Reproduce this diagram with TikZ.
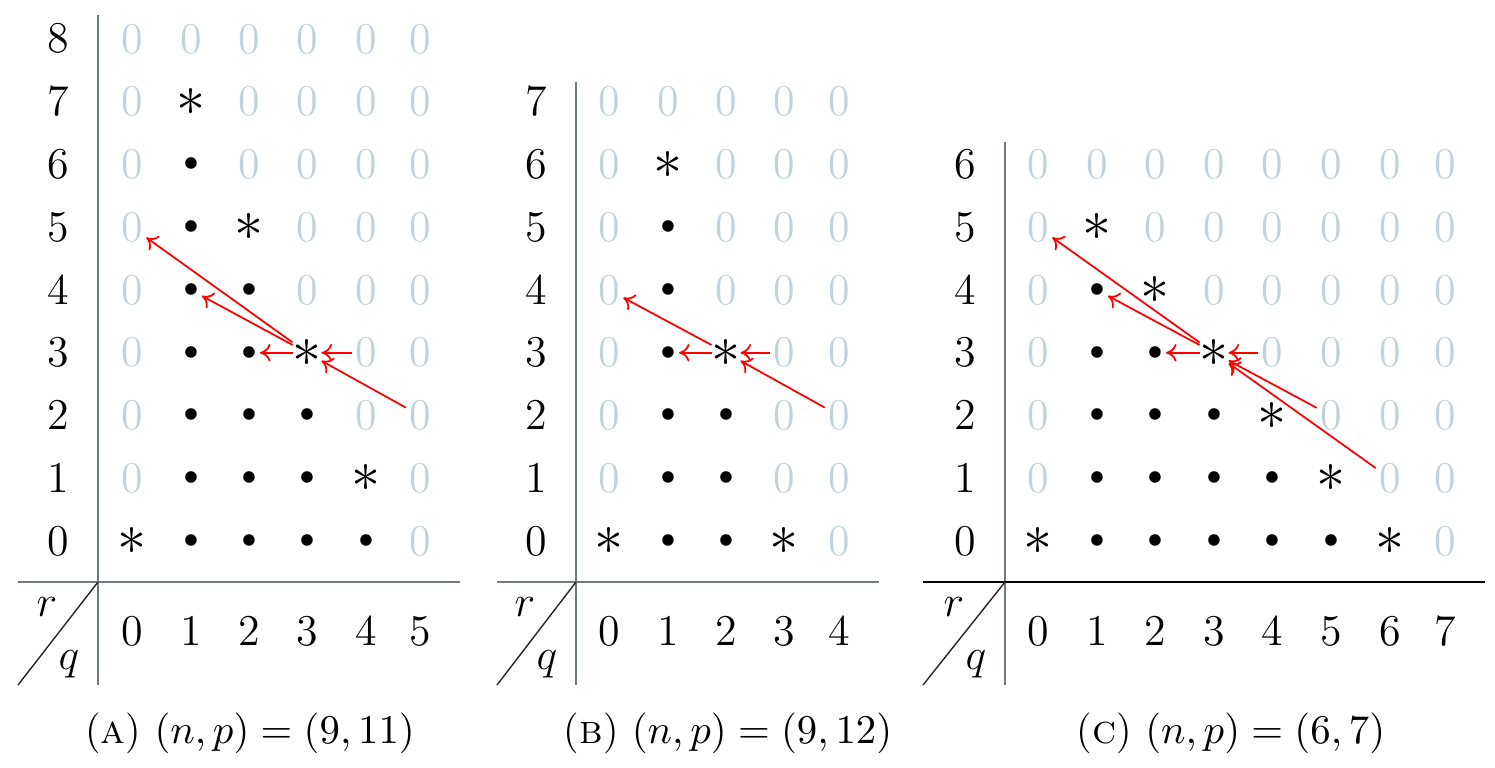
\documentclass[tikz,border=0pt]{standalone}
\usepackage{fix-cm}
\usetikzlibrary{arrows.meta}
\definecolor{zerocol}{RGB}{192,210,220}
\definecolor{axiscol}{RGB}{108,124,130}
\newcommand\cZ{\textcolor{zerocol}{0}}
\newcommand\cS{{\fontsize{16.5}{18}\selectfont\kern-1pt$\ast$\kern-1pt}}
\newcommand\cB{{\fontsize{8}{10}\selectfont$\bullet$}}
\tikzset{
  cell/.style={anchor=center, inner sep=0.8pt, font=\fontsize{12.5}{15}\selectfont},
  lab/.style={anchor=base, inner sep=0pt, font=\fontsize{12.5}{15}\selectfont},
  rq/.style={inner sep=0pt, font=\fontsize{12.5}{15}\selectfont},
  axline/.style={draw=axiscol, line width=0.6pt},
  blackline/.style={draw=black, line width=0.6pt},
  diag/.style={draw=black!85, line width=0.4pt},
  arr/.style={draw=red, line width=0.5pt, -{To[length=3pt,width=5pt]}},
  capt/.style={anchor=base, inner sep=0pt, font=\fontsize{11.6}{14}\selectfont}
}
\begin{document}
\begin{tikzpicture}[x=0.01cm,y=-0.01cm]
\useasboundingbox (0,0) rectangle (1495,767);

% ---------------- Panel A ----------------
\draw[axline] (98,15) -- (98,685);
\draw[axline] (18,582) -- (460,582);
\draw[diag] (18,685) -- (98,582);
\node[rq] (A-r) at (47,607) {$r$};
\node[rq] (A-q) at (69,664) {$q$};
\foreach \rr/\row in {8/{\cZ,\cZ,\cZ,\cZ,\cZ,\cZ},
                      7/{\cZ,\cS,\cZ,\cZ,\cZ,\cZ},
                      6/{\cZ,\cB,\cZ,\cZ,\cZ,\cZ},
                      5/{\cZ,\cB,\cS,\cZ,\cZ,\cZ},
                      4/{\cZ,\cB,\cB,\cZ,\cZ,\cZ},
                      3/{\cZ,\cB,\cB,\cS,\cZ,\cZ},
                      2/{\cZ,\cB,\cB,\cB,\cZ,\cZ},
                      1/{\cZ,\cB,\cB,\cB,\cS,\cZ},
                      0/{\cS,\cB,\cB,\cB,\cB,\cZ}}{
  \pgfmathsetmacro\yy{555-62.75*\rr}
  \pgfmathsetmacro\yc{541-62.75*\rr}
  \node[lab] (A-row\rr) at (58,\yy) {\rr};
  \foreach \t [count=\qq from 0] in \row {
    \pgfmathsetmacro\xx{{132,191,249,307,366,420}[\qq]}
    \node[cell] (A-\qq-\rr) at (\xx,\yc) {\t};
  }
}
\foreach \qq in {0,...,5}{
  \pgfmathsetmacro\xx{{132,191,249,307,366,420}[\qq]}
  \node[lab] (A-col\qq) at (\xx,645) {\qq};
}
\draw[arr] (A-3-3) -- (A-0-5);
\draw[arr] (A-3-3) -- (A-1-4);
\draw[arr] (A-3-3) -- (A-2-3);
\draw[arr] (A-4-3) -- (A-3-3);
\draw[arr] (A-5-2) -- (A-3-3);
\node[capt] (A-cap) at (250,743) {(\textsc{a})\ $(n,p)=(9,11)$};

% ---------------- Panel B ----------------
\draw[axline] (576,82) -- (576,685);
\draw[axline] (497,582) -- (879,582);
\draw[diag] (497,685) -- (576,582);
\node[rq] (B-r) at (525,607) {$r$};
\node[rq] (B-q) at (547,664) {$q$};
\foreach \rr/\row in {7/{\cZ,\cZ,\cZ,\cZ,\cZ},
                      6/{\cZ,\cS,\cZ,\cZ,\cZ},
                      5/{\cZ,\cB,\cZ,\cZ,\cZ},
                      4/{\cZ,\cB,\cZ,\cZ,\cZ},
                      3/{\cZ,\cB,\cS,\cZ,\cZ},
                      2/{\cZ,\cB,\cB,\cZ,\cZ},
                      1/{\cZ,\cB,\cB,\cZ,\cZ},
                      0/{\cS,\cB,\cB,\cS,\cZ}}{
  \pgfmathsetmacro\yy{555-62.75*\rr}
  \pgfmathsetmacro\yc{541-62.75*\rr}
  \node[lab] (B-row\rr) at (536,\yy) {\rr};
  \foreach \t [count=\qq from 0] in \row {
    \pgfmathsetmacro\xx{{609,668,726,784,839}[\qq]}
    \node[cell] (B-\qq-\rr) at (\xx,\yc) {\t};
  }
}
\foreach \qq in {0,...,4}{
  \pgfmathsetmacro\xx{{609,668,726,784,839}[\qq]}
  \node[lab] (B-col\qq) at (\xx,645) {\qq};
}
\draw[arr] (B-2-3) -- (B-0-4);
\draw[arr] (B-2-3) -- (B-1-3);
\draw[arr] (B-3-3) -- (B-2-3);
\draw[arr] (B-4-2) -- (B-2-3);
\node[capt] (B-cap) at (728,743) {(\textsc{b})\ $(n,p)=(9,12)$};

% ---------------- Panel C ----------------
\draw[axline] (1005,142) -- (1005,685);
\draw[blackline] (923,582) -- (1485,582);
\draw[diag] (923,685) -- (1005,582);
\node[rq] (C-r) at (954,607) {$r$};
\node[rq] (C-q) at (976,664) {$q$};
\foreach \rr/\row in {6/{\cZ,\cZ,\cZ,\cZ,\cZ,\cZ,\cZ,\cZ},
                      5/{\cZ,\cS,\cZ,\cZ,\cZ,\cZ,\cZ,\cZ},
                      4/{\cZ,\cB,\cS,\cZ,\cZ,\cZ,\cZ,\cZ},
                      3/{\cZ,\cB,\cB,\cS,\cZ,\cZ,\cZ,\cZ},
                      2/{\cZ,\cB,\cB,\cB,\cS,\cZ,\cZ,\cZ},
                      1/{\cZ,\cB,\cB,\cB,\cB,\cS,\cZ,\cZ},
                      0/{\cS,\cB,\cB,\cB,\cB,\cB,\cS,\cZ}}{
  \pgfmathsetmacro\yy{555-62.75*\rr}
  \pgfmathsetmacro\yc{541-62.75*\rr}
  \node[lab] (C-row\rr) at (965,\yy) {\rr};
  \foreach \t [count=\qq from 0] in \row {
    \pgfmathsetmacro\xx{{1038,1097,1155,1214,1272,1331,1390,1445}[\qq]}
    \node[cell] (C-\qq-\rr) at (\xx,\yc) {\t};
  }
}
\foreach \qq in {0,...,7}{
  \pgfmathsetmacro\xx{{1038,1097,1155,1214,1272,1331,1390,1445}[\qq]}
  \node[lab] (C-col\qq) at (\xx,645) {\qq};
}
\draw[arr] (C-3-3) -- (C-0-5);
\draw[arr] (C-3-3) -- (C-1-4);
\draw[arr] (C-3-3) -- (C-2-3);
\draw[arr] (C-4-3) -- (C-3-3);
\draw[arr] (C-5-2) -- (C-3-3);
\draw[arr] (C-6-1) -- (C-3-3);
\node[capt] (C-cap) at (1231,743) {(\textsc{c})\ $(n,p)=(6,7)$};
\end{tikzpicture}
\end{document}
